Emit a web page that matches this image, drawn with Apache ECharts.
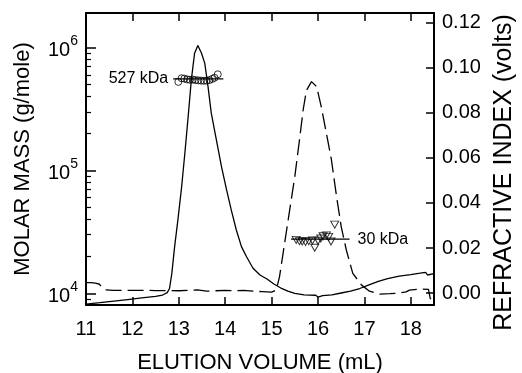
<!DOCTYPE html>
<html>
<head>
<meta charset="utf-8">
<script src="https://cdn.jsdelivr.net/npm/echarts@6/dist/echarts.min.js"></script>
<style>html,body{margin:0;padding:0;background:#fff}#c{width:522px;height:373px}</style>
</head>
<body>
<div id="c"></div>
<script>
// Refractive index trace, solid (elution volume mL, volts)
var solidX = [11.00,11.30,11.60,11.90,12.20,12.50,12.65,12.75,12.80,12.85,12.91,12.98,13.06,13.13,13.20,13.27,13.34,13.41,13.49,13.56,13.63,13.70,13.81,13.92,14.03,14.13,14.24,14.35,14.46,14.60,14.75,14.90,15.05,15.20,15.35,15.50,15.70,15.95,16.00,16.10,16.30,16.50,16.70,16.90,17.10,17.30,17.50,17.75,18.00,18.20,18.32,18.36,18.40,18.50];
var solidRI = [-0.0049,-0.0043,-0.0036,-0.0029,-0.0022,-0.0015,-0.0009,0.0002,0.0020,0.0087,0.0206,0.0324,0.0470,0.0620,0.0780,0.0947,0.1065,0.1100,0.1065,0.1020,0.0917,0.0799,0.0680,0.0561,0.0458,0.0369,0.0280,0.0206,0.0161,0.0110,0.0080,0.0062,0.0040,0.0022,0.0008,-0.0002,-0.0008,-0.0010,-0.0018,-0.0012,-0.0008,0.0000,0.0008,0.0020,0.0036,0.0052,0.0064,0.0075,0.0082,0.0088,0.0092,0.0080,0.0082,0.0086];
// Refractive index trace, dashed
var dashX = [11.00,11.10,11.20,11.28,11.35,11.42,11.60,12.00,12.50,12.80,13.00,13.20,13.40,13.60,13.80,14.00,14.20,14.40,14.60,14.80,15.00,15.10,15.17,15.28,15.39,15.50,15.61,15.68,15.75,15.86,15.97,16.07,16.18,16.29,16.40,16.50,16.61,16.75,16.94,17.11,17.33,17.55,17.76,17.90,17.97,18.20,18.38,18.42,18.50];
var dashRI = [0.0046,0.0046,0.0044,0.0040,0.0025,0.0014,0.0012,0.0012,0.0011,0.0011,0.0010,0.0012,0.0014,0.0008,0.0010,0.0012,0.0010,0.0012,0.0008,0.0006,0.0004,0.0013,0.0072,0.0220,0.0369,0.0517,0.0695,0.0813,0.0900,0.0939,0.0917,0.0828,0.0710,0.0591,0.0428,0.0295,0.0191,0.0087,0.0035,0.0008,-0.0005,-0.0003,0.0000,0.0005,0.0013,0.0018,0.0016,-0.0025,-0.0030];
// Molar mass points (g/mole)
var circleX = [12.99,13.06,13.12,13.18,13.24,13.30,13.36,13.42,13.48,13.54,13.60,13.66,13.72,13.77,13.84];
var circleM = [5.25e5,5.62e5,5.58e5,5.50e5,5.46e5,5.48e5,5.43e5,5.40e5,5.38e5,5.36e5,5.38e5,5.43e5,5.55e5,5.67e5,6.05e5];
var triX = [15.53,15.60,15.66,15.73,15.80,15.88,15.93,16.00,16.06,16.11,16.18,16.23,16.28,16.36];
var triM = [2.72e4,2.66e4,2.64e4,2.62e4,2.66e4,2.69e4,2.35e4,2.68e4,2.79e4,2.91e4,2.96e4,2.88e4,2.64e4,3.62e4];
// Average molar mass lines
var avgLabels = ['527 kDa','30 kDa'];
var avg1X = [12.88,13.96], avg1M = 5.55e5;
var avg2X = [15.42,16.68], avg2M = 2.76e4;
// Ticks
var xTicks = [11,12,13,14,15,16,17,18];
var xTopTicks = [12,13,14,15,16,17,18];
var massMajor = [1e4,1e5,1e6];
var massMinor = [9e3,2e4,3e4,4e4,5e4,6e4,7e4,8e4,9e4,2e5,3e5,4e5,5e5,6e5,7e5,8e5,9e5];
var riTicks = [0,0.02,0.04,0.06,0.08,0.10,0.12];

var X_MIN = 11, X_MAX = 18.5, M_MIN = 8035, M_MAX = 1.908e6, RI_MIN = -0.00533, RI_MAX = 0.1244;

function zip(a,b){return a.map(function(v,i){return [v,b[i]];});}

var FONT = '"Liberation Sans", Arial, sans-serif';
var blackLine = {show:true, onZero:false, lineStyle:{color:'#000', width:2}};
function ticks(len, vals, w){
  return {show:true, inside:true, length:len, lineStyle:{color:'#000', width:w||1.5}, customValues:vals};
}

var chart = echarts.init(document.getElementById('c'), null, {renderer:'canvas'});
chart.setOption({
  backgroundColor:'#fff',
  animation:false,
  textStyle:{fontFamily:FONT, color:'#000'},
  grid:{left:86, right:88, top:13, bottom:68, containLabel:false, outerBoundsMode:'none'},
  xAxis:[{
    type:'value', position:'bottom', min:X_MIN, max:X_MAX,
    axisLine:blackLine,
    axisTick:ticks(8, xTicks),
    axisLabel:{color:'#000', fontSize:20, fontFamily:FONT, margin:14, customValues:xTicks},
    splitLine:{show:false},
    name:'ELUTION VOLUME (mL)', nameLocation:'middle', nameGap:47,
    nameTextStyle:{fontSize:22, color:'#000', fontFamily:FONT}
  },{
    type:'value', position:'top', min:X_MIN, max:X_MAX,
    axisLine:blackLine,
    axisTick:ticks(8, xTopTicks),
    axisLabel:{show:false}, splitLine:{show:false}
  }],
  yAxis:[{
    type:'log', logBase:10, position:'left', min:M_MIN, max:M_MAX,
    axisLine:blackLine,
    axisTick:ticks(10, massMajor),
    axisLabel:{color:'#000', margin:8, customValues:massMajor,
      formatter:function(v){return '{b|10}{s|'+Math.round(Math.log10(v))+'}';},
      rich:{b:{fontSize:20, fontFamily:FONT, color:'#000', verticalAlign:'bottom', lineHeight:26},
            s:{fontSize:14, fontFamily:FONT, color:'#000', verticalAlign:'top', lineHeight:26}}},
    splitLine:{show:false},
    name:'MOLAR MASS (g/mole)', nameLocation:'middle', nameRotate:90, nameGap:52,
    nameTextStyle:{fontSize:22, color:'#000', fontFamily:FONT}
  },{
    type:'value', position:'right', min:RI_MIN, max:RI_MAX,
    axisLine:blackLine,
    axisTick:ticks(8, riTicks),
    axisLabel:{color:'#000', fontSize:20, fontFamily:FONT, margin:8, customValues:riTicks,
      formatter:function(v){return v.toFixed(2);}},
    splitLine:{show:false},
    name:'REFRACTIVE INDEX (volts)', nameLocation:'middle', nameRotate:90, nameGap:50,
    nameTextStyle:{fontSize:25, color:'#000', fontFamily:FONT, padding:[0,27,0,0]}
  },{
    type:'log', logBase:10, position:'left', min:M_MIN, max:M_MAX,
    axisLine:{show:false},
    axisTick:ticks(5, massMinor, 1.2),
    axisLabel:{show:false}, splitLine:{show:false}
  }],
  series:[
    {type:'line', xAxisIndex:0, yAxisIndex:1, data:zip(solidX,solidRI), showSymbol:false, symbol:'none',
     lineStyle:{color:'#000', width:1.3}, z:2},
    {type:'line', xAxisIndex:0, yAxisIndex:1, data:zip(dashX,dashRI), showSymbol:false, symbol:'none',
     lineStyle:{color:'#000', width:1.3, type:[16,6]}, z:2},
    {type:'line', xAxisIndex:0, yAxisIndex:0,
     data:[{value:[avg1X[0],avg1M], label:{show:true, position:'left', distance:5, formatter:avgLabels[0]}},[avg1X[1],avg1M]],
     symbol:'circle', symbolSize:0.01, showSymbol:true,
     label:{show:false, color:'#000', fontSize:16, fontFamily:FONT},
     lineStyle:{color:'#000', width:1.2}, z:3},
    {type:'line', xAxisIndex:0, yAxisIndex:0,
     data:[[avg2X[0],avg2M],{value:[avg2X[1],avg2M], label:{show:true, position:'right', distance:8, formatter:avgLabels[1]}}],
     symbol:'circle', symbolSize:0.01, showSymbol:true,
     label:{show:false, color:'#000', fontSize:16, fontFamily:FONT},
     lineStyle:{color:'#000', width:1.2}, z:3},
    {type:'scatter', xAxisIndex:0, yAxisIndex:0, data:zip(circleX,circleM), symbol:'circle', symbolSize:7,
     itemStyle:{color:'rgba(0,0,0,0)', borderColor:'#000', borderWidth:1}, z:4},
    {type:'scatter', xAxisIndex:0, yAxisIndex:0, data:zip(triX,triM), symbol:'triangle', symbolRotate:180, symbolSize:[8,7],
     itemStyle:{color:'rgba(0,0,0,0)', borderColor:'#000', borderWidth:1}, z:4}
  ]
});
</script>
</body>
</html>
